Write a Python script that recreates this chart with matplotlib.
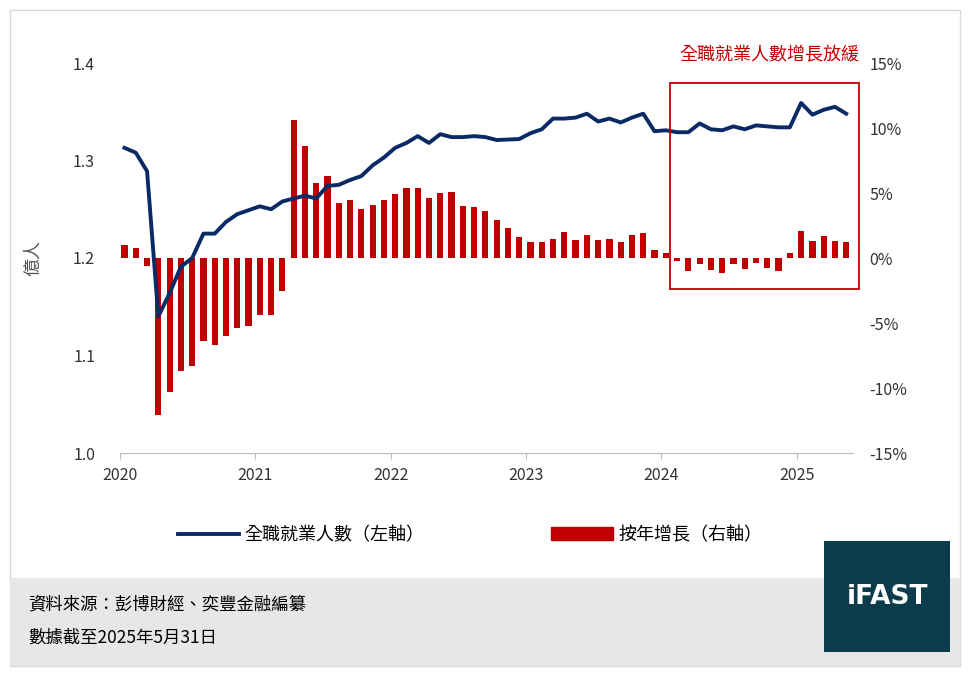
import numpy as np
import matplotlib.pyplot as plt
from matplotlib.patches import Rectangle
from matplotlib.lines import Line2D

plt.rcParams['font.family'] = ['Noto Sans CJK TC', 'DejaVu Sans']

# monthly data, Jan 2020 - May 2025
employed = [1.313, 1.308, 1.289, 1.140, 1.164, 1.191, 1.200, 1.225, 1.225, 1.237,
            1.245, 1.249, 1.253, 1.250, 1.258, 1.261, 1.264, 1.261, 1.274, 1.275,
            1.280, 1.284, 1.295, 1.303, 1.313, 1.318, 1.325, 1.318, 1.327, 1.324,
            1.324, 1.325, 1.324, 1.321, 1.3215, 1.322, 1.328, 1.332, 1.343, 1.343,
            1.344, 1.348, 1.340, 1.343, 1.339, 1.344, 1.348, 1.330, 1.331, 1.329,
            1.329, 1.338, 1.332, 1.331, 1.335, 1.332, 1.336, 1.335, 1.334, 1.334,
            1.359, 1.347, 1.352, 1.355, 1.348]
yoy = [1.0, 0.74, -0.64, -12.1, -10.3, -8.7, -8.3, -6.4, -6.7, -6.0,
       -5.4, -5.2, -4.4, -4.4, -2.5, 10.6, 8.6, 5.8, 6.3, 4.2,
       4.5, 3.8, 4.1, 4.5, 4.9, 5.4, 5.4, 4.6, 5.0, 5.1,
       4.0, 3.9, 3.6, 2.9, 2.3, 1.6, 1.2, 1.2, 1.5, 2.0,
       1.4, 1.8, 1.4, 1.5, 1.2, 1.8, 1.9, 0.64, 0.4, -0.26,
       -1.0, -0.44, -0.9, -1.15, -0.44, -0.82, -0.36, -0.74, -0.97, 0.4,
       2.1, 1.3, 1.7, 1.3, 1.2]
years = ['2020', '2021', '2022', '2023', '2024', '2025']

W, H = 971, 673
fig = plt.figure(figsize=(W / 100, H / 100), dpi=100)

def fx(px):
    return px / W

def fy(py):
    return 1 - py / H

# outer frame and footer
fig.patches.append(Rectangle((fx(10), fy(666)), fx(950), (656) / H, transform=fig.transFigure,
                             facecolor='none', edgecolor='#d9d9d9', lw=1))
fig.patches.append(Rectangle((fx(10), fy(666)), fx(950), (666 - 578) / H, transform=fig.transFigure,
                             facecolor='#e7e7e7', edgecolor='none'))
fig.patches.append(Rectangle((fx(824), fy(652)), fx(126), (652 - 541) / H, transform=fig.transFigure,
                             facecolor='#0b3c4c', edgecolor='none', zorder=3))
fig.text(fx(887), fy(597), 'iFAST', color='white', fontsize=19, fontweight='bold',
         ha='center', va='center', family='DejaVu Sans', zorder=4)
fig.text(fx(28), fy(604), '資料來源：彭博財經、奕豐金融編纂', fontsize=12.5, va='center')
fig.text(fx(28), fy(638), '數據截至2025年5月31日', fontsize=12.5, va='center')

ax = fig.add_axes([fx(120), fy(453), fx(853 - 120), (453 - 63) / H])
ax2 = ax.twinx()
x = np.arange(len(employed)) + 0.4

ax2.bar(x, yoy, width=0.55, color='#c00000', zorder=1)
ax.plot(x, employed, color='#0a2a66', lw=2.8, zorder=3)
ax.set_zorder(ax2.get_zorder() + 1)
ax.patch.set_visible(False)

ax.set_xlim(0, 65)
ax.set_ylim(1.0, 1.4)
ax.set_yticks([1.0, 1.1, 1.2, 1.3, 1.4])
ax2.set_ylim(-15, 15)
ax2.set_yticks(range(-15, 16, 5))
ax2.set_yticklabels([f'{v}%' for v in range(-15, 16, 5)])
ax.set_xticks(range(0, 61, 12))
ax.set_xticklabels(years)
for a in (ax, ax2):
    for s in ('top', 'left', 'right'):
        a.spines[s].set_visible(False)
    a.spines['bottom'].set_color('#bfbfbf')
    a.tick_params(labelsize=11.5, length=0, colors='#333333')
ax.tick_params(axis='x', length=4, color='#bfbfbf', pad=6)
ax.tick_params(axis='y', pad=18)
ax2.tick_params(axis='y', pad=12)
ax.set_ylabel('億人', fontsize=13, color='#555555', labelpad=22)

# highlight box
fig.patches.append(Rectangle((fx(670), fy(289)), fx(859 - 670), (289 - 83) / H, transform=fig.transFigure,
                             facecolor='none', edgecolor='#c00000', lw=1.3, zorder=5))
fig.text(fx(859), fy(55), '全職就業人數增長放緩', color='#c00000', fontsize=13, ha='right', va='center')

handles = [Line2D([], [], color='#0a2a66', lw=2.8),
           Rectangle((0, 0), 1, 1, color='#c00000')]
fig.legend(handles, ['全職就業人數（左軸）', '按年增長（右軸）'], loc='center',
           bbox_to_anchor=(fx(470), fy(535)), ncol=2, frameon=False, fontsize=13,
           handlelength=3.4, columnspacing=7, handletextpad=0.3)

fig.savefig('out.png', dpi=100)
